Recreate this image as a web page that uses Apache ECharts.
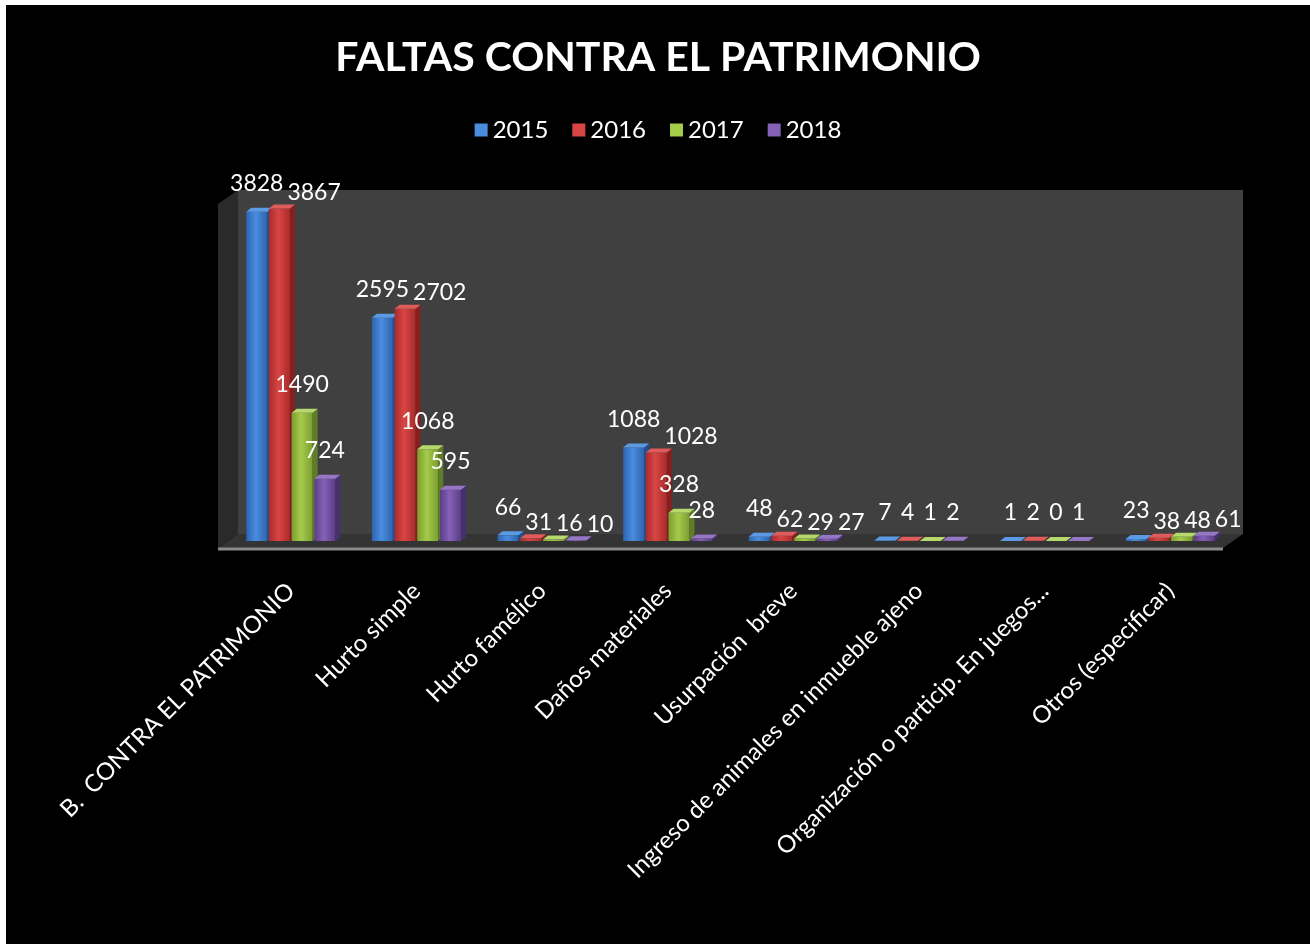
<!DOCTYPE html>
<html>
<head>
<meta charset="utf-8">
<title>Faltas contra el patrimonio</title>
<script src="https://cdn.jsdelivr.net/npm/echarts@6/dist/echarts.min.js"></script>
<style>
  html, body { margin: 0; padding: 0; background: #fff; }
  #myChart { position: absolute; left: 6px; top: 5px; width: 1304px; height: 939px; background: #000; }
</style>
</head>
<body>
<div id="myChart"></div>
<script>
// datos de la tabla
var categories = [
  "B.  CONTRA EL PATRIMONIO",
  "Hurto simple",
  "Hurto famélico",
  "Daños materiales",
  "Usurpación  breve",
  "Ingreso de animales en inmueble ajeno",
  "Organización o particip. En juegos...",
  "Otros (especificar)"
];
var years = ["2015", "2016", "2017", "2018"];
var data2015 = [3828, 2595, 66, 1088, 48, 7, 1, 23];
var data2016 = [3867, 2702, 31, 1028, 62, 4, 2, 38];
var data2017 = [1490, 1068, 16, 328, 29, 1, 0, 48];
var data2018 = [724, 595, 10, 28, 27, 2, 1, 61];

var allData = [data2015, data2016, data2017, data2018];

// colores: cara frontal (borde, centro), lateral, tapa
var barColors = [
  { edge: "#2d63ae", mid: "#4a8ddf", side: "#22508e", top: "#5b9be6" },
  { edge: "#a92b2b", mid: "#d84644", side: "#86201f", top: "#e05c5a" },
  { edge: "#7b9e30", mid: "#a5cb4b", side: "#5f7d27", top: "#b6d86c" },
  { edge: "#5b3d87", mid: "#8461b6", side: "#47306c", top: "#9677c6" }
];

var FONT = "Lato, 'Open Sans', sans-serif";
var BAR_W = 21, STEP = 22.7, DX = 5, DY = 4;

var measureCtx = document.createElement("canvas").getContext("2d");
measureCtx.font = "23px " + FONT;

function barX(api, cat, s) {
  return api.coord([cat, 0])[0] + (s - 1.5) * STEP;
}

// posiciones de etiquetas: encima de la barra, y si chocan con la anterior se corren a la derecha
function labelBoxes(api, cat) {
  var boxes = [];
  for (var s = 0; s < allData.length; s++) {
    var v = allData[s][cat];
    var cx = barX(api, cat, s);
    var topY = api.coord([cat, v])[1];
    var w = measureCtx.measureText(String(v)).width;
    var b = { x: cx - w / 2, y: topY - 28 - 12, w: w, h: 24 };
    var prev = boxes[s - 1];
    if (prev && b.x < prev.x + prev.w && prev.x < b.x + b.w && b.y < prev.y + prev.h && prev.y < b.y + b.h) {
      b.x = prev.x + prev.w + 4;
      b.y += 12;
    }
    boxes.push(b);
  }
  return boxes;
}

function makeBarRenderer(s) {
  return function (params, api) {
    var cat = api.value(0);
    var val = api.value(1);
    var c = barColors[s];
    var cx = barX(api, cat, s);
    var base = api.coord([cat, 0])[1];
    var top = api.coord([cat, val])[1];
    var x0 = cx - BAR_W / 2, x1 = cx + BAR_W / 2;
    var box = labelBoxes(api, cat)[s];
    return {
      type: "group",
      children: [
        {
          type: "rect",
          shape: { x: x0, y: top, width: BAR_W, height: Math.max(base - top, 0) },
          style: {
            fill: new echarts.graphic.LinearGradient(0, 0, 1, 0, [
              { offset: 0, color: c.edge },
              { offset: 0.45, color: c.mid },
              { offset: 1, color: c.edge }
            ])
          }
        },
        {
          type: "polygon",
          shape: { points: [[x1, top], [x1 + DX, top - DY], [x1 + DX, base - DY], [x1, base]] },
          style: { fill: c.side }
        },
        {
          type: "polygon",
          shape: { points: [[x0, top], [x0 + DX, top - DY], [x1 + DX, top - DY], [x1, top]] },
          style: { fill: c.top }
        },
        {
          type: "text",
          z2: 100,
          x: box.x + box.w / 2,
          y: box.y + box.h / 2,
          style: {
            text: String(val),
            fill: "#fff",
            font: "23px " + FONT,
            align: "center",
            verticalAlign: "middle"
          }
        }
      ]
    };
  };
}

// paredes y piso del grafico 3D
function renderWalls(params, api) {
  var cs = params.coordSys;
  var bx = 10, by = 7;
  var l = cs.x, r = cs.x + cs.width, t = cs.y, b = cs.y + cs.height;
  return {
    type: "group",
    children: [
      { type: "rect", shape: { x: l + bx, y: t - by, width: cs.width, height: cs.height }, style: { fill: "#404040" } },
      { type: "polygon", shape: { points: [[l - bx, t + by], [l + bx, t - by], [l + bx, b - by], [l - bx, b + by]] }, style: { fill: "#2a2a2a" } },
      { type: "polygon", shape: { points: [[l - bx, b + by], [l + bx, b - by], [r + bx, b - by], [r - bx, b + by]] }, style: { fill: "#343434" } },
      { type: "line", shape: { x1: l - bx, y1: b + by + 1, x2: r - bx, y2: b + by + 1 }, style: { stroke: "#8a8a8a", lineWidth: 3 } }
    ]
  };
}

var myChart = echarts.init(document.getElementById("myChart"));

var series = years.map(function (y, s) {
  return {
    name: y,
    type: "custom",
    z: 2,
    itemStyle: { color: barColors[s].mid },
    encode: { x: 0, y: 1 },
    data: allData[s].map(function (v, i) { return [i, v]; }),
    renderItem: makeBarRenderer(s)
  };
});
series.push({
  name: "walls",
  type: "custom",
  z: 1,
  silent: true,
  data: [[0, 0]],
  renderItem: renderWalls
});

var option = {
  backgroundColor: "#000",
  animation: false,
  title: {
    text: "FALTAS CONTRA EL PATRIMONIO",
    left: "center",
    top: 27,
    textStyle: { color: "#fff", fontFamily: FONT, fontWeight: "bold", fontSize: 41 }
  },
  legend: {
    data: years,
    top: 108,
    left: "center",
    icon: "rect",
    itemWidth: 13,
    itemHeight: 13,
    itemGap: 24,
    textStyle: { color: "#fff", fontFamily: FONT, fontSize: 24 }
  },
  grid: { left: 222, right: 77, top: 192, bottom: 403 },
  xAxis: {
    type: "category",
    data: categories,
    axisLine: { show: false },
    axisTick: { show: false },
    axisLabel: {
      interval: 0,
      rotate: 45,
      margin: 46,
      color: "#fff",
      fontFamily: FONT,
      fontSize: 24
    }
  },
  yAxis: {
    type: "value",
    min: 0,
    max: 4000,
    show: false
  },
  series: series
};

myChart.setOption(option);
</script>
</body>
</html>
